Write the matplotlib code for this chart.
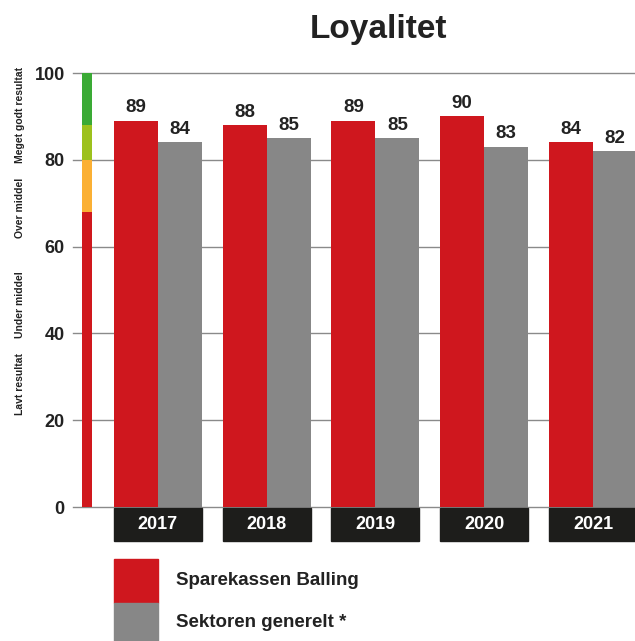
import matplotlib.pyplot as plt
from matplotlib.patches import Rectangle
import numpy as np

plt.rcParams['font.family'] = ['Liberation Sans', 'DejaVu Sans']
plt.rcParams['font.weight'] = 'bold'

years = ['2017', '2018', '2019', '2020', '2021']
balling = [89, 88, 89, 90, 84]
sektor = [84, 85, 85, 83, 82]
series_names = ['Sparekassen Balling', 'Sektoren generelt *']

# colour scale on the left (bottom, top)
scale_bands = [(0, 68), (68, 80), (80, 88), (88, 100)]
scale_colors = ['#d0181d', '#fbb034', '#9dc11d', '#3aaa35']
scale_labels = ['Lavt resultat', 'Under middel', 'Over middel', 'Meget godt resultat']

RED = '#cf171e'
GREY = '#878787'
DARK = '#1d1d1b'

W, H = 635, 641
fig = plt.figure(figsize=(W / 100, H / 100), dpi=100)
ax = fig.add_axes([73 / W, (H - 507) / H, (635 - 73) / W, (507 - 73) / H])

x = np.arange(len(years))
bw = 0.405
ax.set_xlim(-0.78, 4.386)
ax.set_ylim(0, 100)

for yv in [0, 20, 40, 60, 80, 100]:
    ax.axhline(yv, color='#8a8a8a', lw=1, zorder=0, clip_on=False)

r1 = ax.bar(x - bw / 2, balling, bw, color=RED, zorder=2)
r2 = ax.bar(x + bw / 2, sektor, bw, color=GREY, zorder=2)
for rects, vals in [(r1, balling), (r2, sektor)]:
    for r, v in zip(rects, vals):
        ax.text(r.get_x() + r.get_width() / 2, v + 1.0, str(v), ha='center',
                va='bottom', fontsize=13.5, color='#222222', fontweight='bold')

# colour scale bar
sx = -0.697
for (b, t), c in zip(scale_bands, scale_colors):
    ax.bar(sx, t - b, 0.092, bottom=b, color=c, align='edge', zorder=2)

# year boxes below axis
for i, yr in enumerate(years):
    ax.add_patch(Rectangle((i - bw, -7.8), 2 * bw, 7.6, color=DARK,
                           clip_on=False, zorder=3))
    ax.text(i, -4.0, yr, ha='center', va='center', color='white',
            fontsize=13, fontweight='bold', clip_on=False)

# legend
ax.add_patch(Rectangle((-bw, -22.1), bw, 10.1, color=RED, clip_on=False))
ax.add_patch(Rectangle((-bw, -31.5), bw, 9.4, color=GREY, clip_on=False))
ax.text(0.167, -17.0, series_names[0], ha='left', va='center', fontsize=13.5,
        color='#222222', fontweight='bold')
ax.text(0.167, -26.6, series_names[1], ha='left', va='center', fontsize=13.5,
        color='#222222', fontweight='bold')

ax.set_xticks([])
ax.set_yticks([0, 20, 40, 60, 80, 100])
ax.tick_params(axis='y', length=0, pad=6, labelsize=13)
for lab in ax.get_yticklabels():
    lab.set_fontweight('bold')
    lab.set_color('#222222')
for s in ax.spines.values():
    s.set_visible(False)

# rotated scale labels
for lab, yc in zip(scale_labels, [384, 305, 208, 115]):
    fig.text(20 / W, 1 - yc / H, lab, rotation=90, ha='center', va='center',
             fontsize=7.5, fontweight='bold', color='#222222')

fig.text(378 / W, 1 - 38 / H, 'Loyalitet', ha='center', va='baseline',
         fontsize=24, fontweight='bold', color='#222222')

fig.savefig('out.png', dpi=100)
